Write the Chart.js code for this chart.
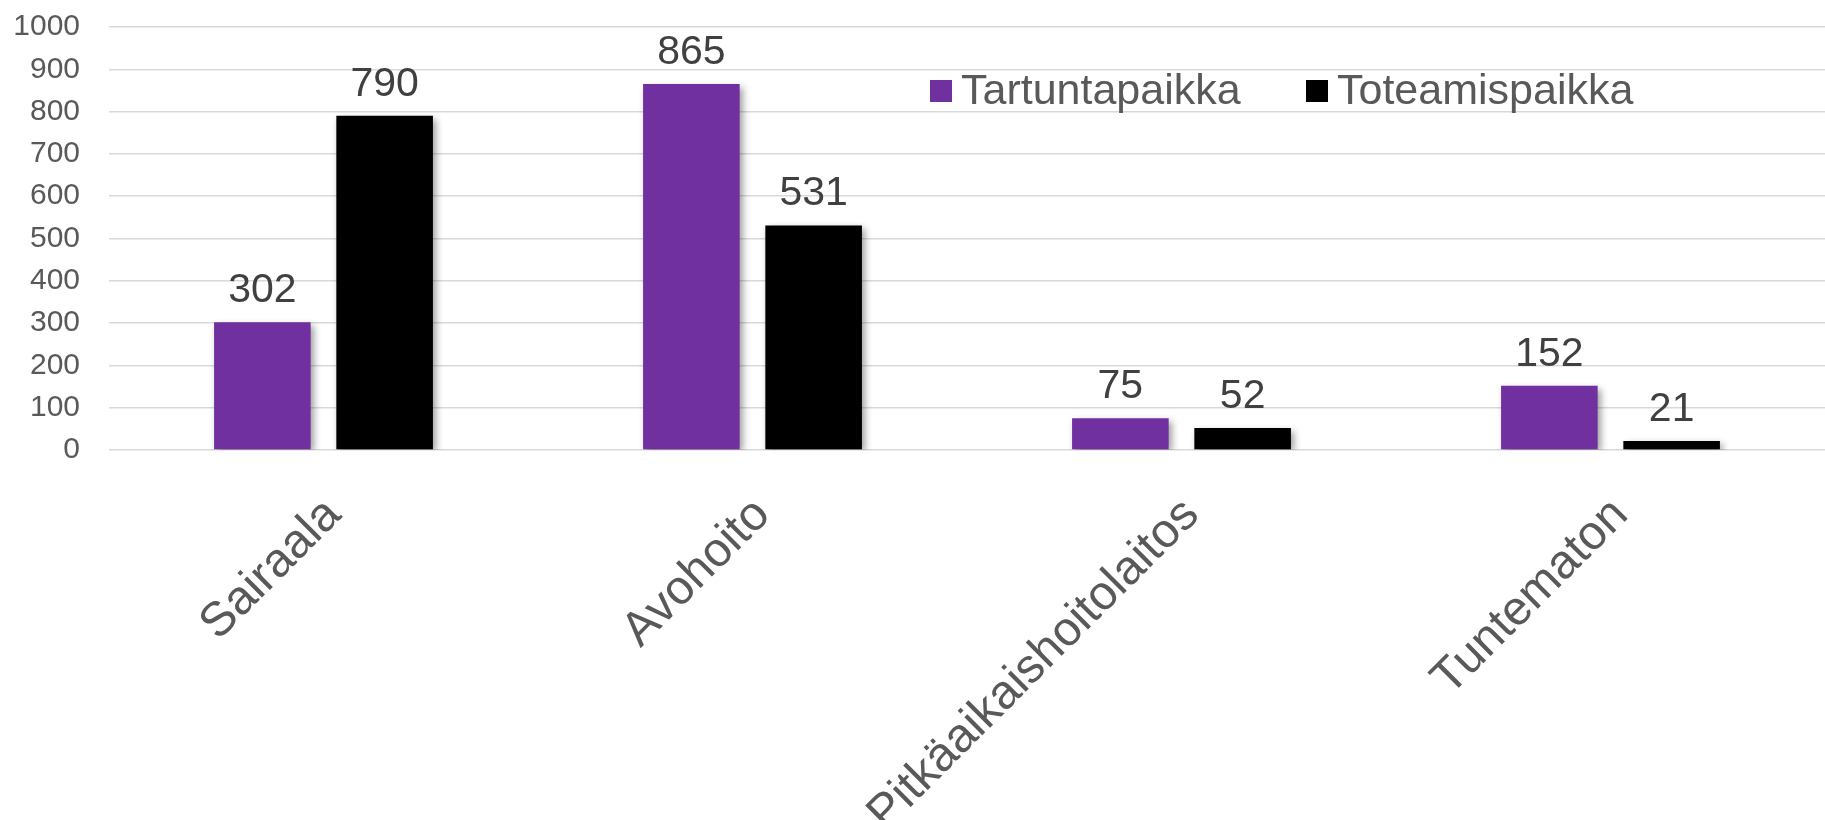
<!DOCTYPE html>
<html>
<head>
<meta charset="utf-8">
<script src="https://cdn.jsdelivr.net/npm/chart.js@4"></script>
<style>
    html, body { margin: 0; padding: 0; background: #fff; }
    #wrap { width: 1825px; height: 820px; }
</style>
</head>
<body>
<div id="wrap"><canvas id="chart" width="1825" height="820"></canvas></div>
<script>
const categories = ['Sairaala', 'Avohoito', 'Pitkäaikaishoitolaitos', 'Tuntematon'];
const tartuntapaikka = [302, 865, 75, 152];
const toteamispaikka = [790, 531, 52, 21];
const seriesNames = ['Tartuntapaikka', 'Toteamispaikka'];
const seriesColors = ['#7030a0', '#000000'];

const FONT = "'Liberation Sans', Arial, sans-serif";

// soft drop shadow under the bars
const barShadow = {
    id: 'barShadow',
    beforeDatasetsDraw: (chart) => {
        const ctx = chart.ctx;
        ctx.save();
        ctx.shadowColor = 'rgba(0,0,0,0.38)';
        ctx.shadowBlur = 7;
        ctx.shadowOffsetX = 3;
        ctx.shadowOffsetY = 3;
    },
    afterDatasetsDraw: (chart) => {
        chart.ctx.restore();
    }
};

// value labels above bars
const valueLabels = {
    id: 'valueLabels',
    afterDatasetsDraw: (chart) => {
        const ctx = chart.ctx;
        ctx.save();
        ctx.font = `41px ${FONT}`;
        ctx.fillStyle = '#404040';
        ctx.textAlign = 'center';
        ctx.textBaseline = 'alphabetic';
        chart.data.datasets.forEach((ds, i) => {
            chart.getDatasetMeta(i).data.forEach((bar, j) => {
                ctx.fillText(String(ds.data[j]), bar.x, bar.y - 20);
            });
        });
        ctx.restore();
    }
};

// legend drawn inside the plot area
const innerLegend = {
    id: 'innerLegend',
    afterDraw: (chart) => {
        const ctx = chart.ctx;
        const starts = [930, 1306];
        ctx.save();
        ctx.font = `43px ${FONT}`;
        ctx.textBaseline = 'alphabetic';
        ctx.textAlign = 'left';
        chart.data.datasets.forEach((ds, i) => {
            const x = starts[i];
            ctx.fillStyle = ds.backgroundColor;
            ctx.fillRect(x, 80, 22, 22);
            ctx.fillStyle = '#595959';
            ctx.fillText(ds.label, x + 31, 104);
        });
        ctx.restore();
    }
};

new Chart(document.getElementById('chart').getContext('2d'), {
    type: 'bar',
    data: {
        labels: categories,
        datasets: [{
            label: seriesNames[0],
            data: tartuntapaikka,
            backgroundColor: seriesColors[0],
            categoryPercentage: 0.57,
            barPercentage: 0.79
        }, {
            label: seriesNames[1],
            data: toteamispaikka,
            backgroundColor: seriesColors[1],
            categoryPercentage: 0.57,
            barPercentage: 0.79
        }]
    },
    options: {
        responsive: false,
        animation: false,
        layout: { padding: { top: 27, right: 0, bottom: 0, left: 0 } },
        plugins: {
            legend: { display: false },
            tooltip: { enabled: false }
        },
        scales: {
            x: {
                grid: { display: false },
                border: { display: false },
                ticks: {
                    color: '#595959',
                    font: { family: FONT, size: 48 },
                    maxRotation: 45,
                    minRotation: 45,
                    padding: 29,
                    labelOffset: 10
                },
                afterFit: (scale) => { scale.height = 370; }
            },
            y: {
                min: 0,
                max: 1000,
                grid: { color: '#d9d9d9', lineWidth: 1.5, drawTicks: false },
                border: { display: false },
                ticks: {
                    stepSize: 100,
                    color: '#595959',
                    font: { family: FONT, size: 30 },
                    padding: 29,
                    callback: (v) => String(v)
                },
                afterFit: (scale) => {
                    scale.width = 109;
                    scale.paddingTop = 0;
                    scale.paddingBottom = 0;
                }
            }
        }
    },
    plugins: [barShadow, valueLabels, innerLegend]
});
</script>
</body>
</html>
